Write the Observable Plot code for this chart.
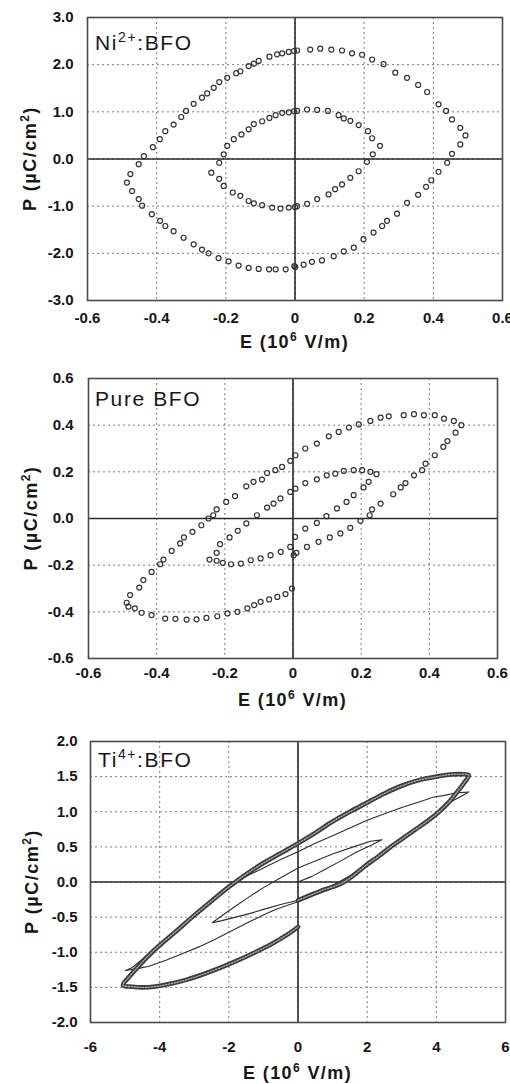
<!DOCTYPE html>
<html>
<head>
<meta charset="utf-8">
<script src="https://cdn.jsdelivr.net/npm/d3@7"></script>
<script src="https://cdn.jsdelivr.net/npm/@observablehq/plot@0.6"></script>
<style>
  body { margin: 0; background: #fff; width: 510px; }
  #charts svg { display: block; }
</style>
</head>
<body>
<div id="charts"></div>
<script>
// P–E hysteresis loops, E in 10^6 V/m, P in µC/cm², pairs are [E, P]

// Ni2+:BFO — outer loop (±0.5) and inner loop (±0.25), open circles
const niOuter = [
  [-0.486,-0.50],[-0.476,-0.32],[-0.452,-0.11],[-0.437,0.06],[-0.411,0.25],[-0.391,0.42],[-0.375,0.59],
  [-0.351,0.73],[-0.329,0.89],[-0.315,1.02],[-0.293,1.17],[-0.269,1.30],[-0.254,1.39],[-0.235,1.51],
  [-0.219,1.63],[-0.196,1.72],[-0.170,1.82],[-0.158,1.86],[-0.134,1.97],[-0.119,2.02],[-0.105,2.08],
  [-0.074,2.17],[-0.052,2.22],[-0.037,2.24],[-0.018,2.27],[-0.003,2.29],
  [0.006,2.30],[0.044,2.32],[0.073,2.34],[0.105,2.32],[0.136,2.30],[0.165,2.24],[0.194,2.21],
  [0.223,2.11],[0.256,2.01],[0.290,1.83],[0.324,1.72],[0.356,1.57],[0.382,1.42],[0.415,1.16],
  [0.437,1.02],[0.454,0.84],[0.478,0.66],[0.493,0.50],
  [0.478,0.31],[0.454,0.11],[0.440,-0.08],[0.415,-0.27],[0.394,-0.45],[0.379,-0.59],[0.356,-0.76],
  [0.324,-0.93],[0.295,-1.16],[0.266,-1.31],[0.252,-1.42],[0.227,-1.56],[0.198,-1.70],[0.170,-1.88],
  [0.141,-1.96],[0.112,-2.06],[0.078,-2.15],[0.049,-2.18],[0.025,-2.24],[0.001,-2.29],
  [-0.002,-2.27],[-0.027,-2.34],[-0.056,-2.34],[-0.075,-2.34],[-0.105,-2.33],[-0.134,-2.31],
  [-0.163,-2.26],[-0.192,-2.17],[-0.221,-2.10],[-0.250,-2.00],[-0.269,-1.92],[-0.293,-1.81],
  [-0.322,-1.67],[-0.351,-1.53],[-0.375,-1.42],[-0.390,-1.31],[-0.414,-1.17],[-0.442,-0.99],
  [-0.452,-0.85],[-0.471,-0.68]
];
const niInner = [
  [-0.206,0.10],[-0.219,-0.08],[-0.242,-0.29],[-0.219,-0.42],[-0.206,-0.57],[-0.180,-0.71],
  [-0.158,-0.78],[-0.134,-0.89],[-0.119,-0.94],[-0.095,-0.98],[-0.066,-1.03],[-0.042,-1.05],
  [-0.018,-1.03],[0.0,-1.02],
  [0.006,-1.00],[0.035,-0.95],[0.064,-0.85],[0.097,-0.75],[0.116,-0.64],[0.136,-0.54],[0.160,-0.40],
  [0.184,-0.26],[0.208,-0.06],[0.225,0.10],[0.246,0.28],
  [0.223,0.44],[0.211,0.59],[0.184,0.72],[0.160,0.81],[0.141,0.86],[0.126,0.93],[0.095,1.02],
  [0.064,1.04],[0.035,1.05],[0.006,1.02],
  [-0.003,1.01],[-0.018,0.99],[-0.037,0.98],[-0.056,0.93],[-0.074,0.87],[-0.095,0.80],
  [-0.119,0.74],[-0.134,0.63],[-0.155,0.52],[-0.177,0.42],[-0.196,0.28]
];

// Pure BFO — outer loop (±0.5) and inner loop (±0.25), open circles
const pureOuter = [
  [-0.488,-0.361],[-0.478,-0.328],[-0.451,-0.296],[-0.439,-0.264],[-0.415,-0.229],[-0.390,-0.196],
  [-0.380,-0.176],[-0.356,-0.139],[-0.331,-0.107],[-0.320,-0.081],[-0.295,-0.057],[-0.269,-0.029],
  [-0.248,0.000],[-0.234,0.014],[-0.224,0.039],[-0.196,0.071],[-0.170,0.096],[-0.137,0.138],
  [-0.116,0.157],[-0.091,0.167],[-0.076,0.195],[-0.052,0.207],[-0.032,0.221],[-0.008,0.247],
  [0.007,0.271],[0.036,0.300],[0.070,0.321],[0.105,0.352],[0.134,0.371],[0.164,0.390],[0.193,0.403],
  [0.227,0.418],[0.257,0.432],[0.281,0.438],[0.325,0.443],[0.355,0.447],[0.384,0.443],[0.416,0.443],
  [0.443,0.428],[0.472,0.418],[0.494,0.400],
  [0.477,0.368],[0.453,0.332],[0.441,0.307],[0.416,0.271],[0.389,0.235],[0.379,0.207],[0.355,0.185],
  [0.330,0.152],[0.316,0.133],[0.294,0.104],[0.257,0.064],[0.232,0.039],[0.225,0.014],[0.198,-0.010],
  [0.168,-0.040],[0.139,-0.064],[0.108,-0.081],[0.075,-0.100],[0.041,-0.122],[0.010,-0.147],
  [0.002,-0.157],
  [-0.003,-0.300],[-0.022,-0.324],[-0.046,-0.336],[-0.070,-0.347],[-0.095,-0.357],[-0.114,-0.371],
  [-0.134,-0.385],[-0.163,-0.400],[-0.192,-0.407],[-0.222,-0.419],[-0.254,-0.426],[-0.283,-0.432],
  [-0.312,-0.433],[-0.345,-0.430],[-0.375,-0.429],[-0.415,-0.414],[-0.444,-0.404],[-0.464,-0.385],
  [-0.483,-0.378]
];
const pureInner = [
  [-0.245,-0.176],[-0.224,-0.147],[-0.214,-0.110],[-0.186,-0.081],[-0.162,-0.053],[-0.137,-0.021],
  [-0.106,0.014],[-0.076,0.047],[-0.057,0.064],[-0.037,0.086],[-0.008,0.114],[0.007,0.128],
  [0.036,0.152],[0.070,0.168],[0.099,0.185],[0.124,0.192],[0.149,0.204],[0.178,0.207],[0.203,0.207],
  [0.227,0.200],[0.245,0.190],
  [0.222,0.157],[0.207,0.133],[0.178,0.100],[0.157,0.071],[0.129,0.043],[0.098,0.010],[0.070,-0.019],
  [0.036,-0.043],[0.006,-0.079],
  [-0.008,-0.122],[-0.036,-0.143],[-0.066,-0.157],[-0.095,-0.171],[-0.124,-0.179],[-0.153,-0.193],
  [-0.182,-0.196],[-0.206,-0.190],[-0.224,-0.181]
];

// Ti4+:BFO — outer loop (±5, dense markers) in three sweeps, plus two smaller loops (lines)
const tiOuterRise = [
  [0,-0.26],[0.25,-0.21],[0.5,-0.16],[0.75,-0.11],[1.0,-0.07],[1.33,0.0],[1.67,0.12],[2.0,0.25],
  [2.34,0.37],[2.68,0.5],[3.0,0.61],[3.4,0.75],[3.75,0.87],[4.08,1.0],[4.35,1.13],[4.6,1.28],
  [4.8,1.41],[4.94,1.52]
];
const tiOuterTop = [
  [4.94,1.52],[4.7,1.535],[4.41,1.53],[4.0,1.50],[3.5,1.45],[3.0,1.37],[2.5,1.26],[2.0,1.13],
  [1.5,1.0],[1.0,0.86],[0.5,0.70],[0,0.55],[-0.5,0.41],[-1.0,0.27],[-1.5,0.11],[-2.0,-0.07],
  [-2.5,-0.27],[-3.06,-0.5],[-3.5,-0.69],[-4.0,-0.9],[-4.22,-1.0],[-4.5,-1.14],[-4.7,-1.25],
  [-4.9,-1.36],[-5.06,-1.47]
];
const tiOuterReturn = [
  [-5.06,-1.47],[-4.8,-1.49],[-4.5,-1.50],[-4.17,-1.49],[-3.69,-1.45],[-3.21,-1.39],[-2.72,-1.31],
  [-2.24,-1.22],[-1.76,-1.12],[-1.28,-1.01],[-0.79,-0.89],[-0.31,-0.75],[0,-0.64]
];
const tiMidLoop = [
  [0,-0.28],[0.5,-0.17],[1.0,-0.05],[1.5,0.09],[2.0,0.25],[2.5,0.42],[3.0,0.59],[3.5,0.78],
  [4.0,0.98],[4.3,1.11],[4.6,1.19],[4.94,1.28],
  [4.6,1.27],[4.2,1.23],[3.93,1.21],[3.5,1.14],[3.0,1.06],[2.5,0.97],[2.0,0.88],[1.5,0.77],
  [1.0,0.66],[0.5,0.55],[0,0.43],[-0.5,0.32],[-1.0,0.20],[-1.5,0.08],[-2.0,-0.06],[-2.5,-0.27],
  [-3.0,-0.48],[-3.5,-0.68],[-4.0,-0.88],[-4.5,-1.10],[-4.8,-1.22],[-4.99,-1.26],
  [-4.6,-1.23],[-4.31,-1.20],[-3.8,-1.11],[-3.35,-1.02],[-2.85,-0.92],[-2.38,-0.81],[-1.9,-0.69],
  [-1.42,-0.57],[-1.0,-0.47],[-0.65,-0.39],[-0.3,-0.33],[0,-0.28]
];
const tiInnerLoop = [
  [0,0.0],[0.4,0.08],[0.75,0.17],[1.2,0.29],[1.71,0.43],[2.1,0.52],[2.43,0.60],
  [2.1,0.58],[1.6,0.50],[1.0,0.40],[0.5,0.30],[0,0.20],[-0.5,0.06],[-1.0,-0.08],[-1.5,-0.24],
  [-2.0,-0.41],[-2.48,-0.58],
  [-2.2,-0.55],[-1.8,-0.50],[-1.4,-0.45],[-1.0,-0.39],[-0.5,-0.32],[0,-0.26]
];

// Axis ticks and their printed labels
const smallETicks = [-0.6,-0.4,-0.2,0,0.2,0.4,0.6];
const smallELabels = ["-0.6","-0.4","-0.2","0","0.2","0.4","0.6"];
const niPTicks = [-3,-2,-1,0,1,2,3];
const niPLabels = ["-3.0","-2.0","-1.0","0.0","1.0","2.0","3.0"];
const purePTicks = [-0.6,-0.4,-0.2,0,0.2,0.4,0.6];
const purePLabels = ["-0.6","-0.4","-0.2","0.0","0.2","0.4","0.6"];
const tiETicks = [-6,-4,-2,0,2,4,6];
const tiELabels = ["-6","-4","-2","0","2","4","6"];
const tiPTicks = [-2,-1.5,-1,-0.5,0,0.5,1,1.5,2];
const tiPLabels = ["-2.0","-1.5","-1.0","-0.5","0.0","0.5","1.0","1.5","2.0"];

// Sample names: [base, superscript, rest]
const names = [["Ni", "2+", ":BFO"], ["Pure BFO", "", ""], ["Ti", "4+", ":BFO"]];

const FONT = '"Liberation Sans", Arial, Helvetica, sans-serif';
const INK = "#161616";

function panel(cfg) {
  const fmt = (ticks, labels) => d => labels[ticks.indexOf(d)] ?? "";
  const chart = Plot.plot({
    width: 510,
    height: cfg.height,
    marginTop: cfg.mt, marginBottom: cfg.mb, marginLeft: cfg.ml, marginRight: cfg.mr,
    style: {fontFamily: FONT, fontSize: "15px", fontWeight: "bold", color: INK, background: "#fff", overflow: "visible"},
    x: {domain: cfg.xDomain, ticks: cfg.xTicks, tickFormat: fmt(cfg.xTicks, cfg.xLabels),
        tickSize: 0, tickPadding: cfg.xPad, label: null},
    y: {domain: cfg.yDomain, ticks: cfg.yTicks, tickFormat: fmt(cfg.yTicks, cfg.yLabels),
        tickSize: 0, tickPadding: cfg.yPad, label: null},
    marks: [
      Plot.ruleX(cfg.xTicks, {stroke: "#7a7a7a", strokeWidth: 1, strokeDasharray: "2,3"}),
      Plot.ruleY(cfg.yTicks, {stroke: "#7a7a7a", strokeWidth: 1, strokeDasharray: "2,3"}),
      Plot.ruleX([0], {stroke: "#2a2a2a", strokeWidth: 1.6}),
      Plot.ruleY([0], {stroke: "#2a2a2a", strokeWidth: 1.6}),
      ...cfg.marks,
      Plot.frame({stroke: "#4a4a4a", strokeWidth: 1.6})
    ]
  });
  document.getElementById("charts").append(chart);

  const svg = d3.select(chart);
  const g = svg.append("g").attr("fill", INK).attr("font-family", FONT);
  const cx = (cfg.ml + 510 - cfg.mr) / 2;
  const cy = (cfg.mt + cfg.height - cfg.mb) / 2;

  // E axis title
  const xt = g.append("text").attr("x", cx).attr("y", cfg.xTitleY)
    .attr("text-anchor", "middle").attr("font-size", 18).attr("font-weight", "bold")
    .attr("letter-spacing", 1.4);
  xt.append("tspan").text("E (10");
  xt.append("tspan").attr("font-size", 12).attr("dy", -7).text("6");
  xt.append("tspan").attr("dy", 7).text(" V/m)");

  // P axis title
  const yt = g.append("text").attr("transform", `translate(${cfg.yTitleX},${cy}) rotate(-90)`)
    .attr("text-anchor", "middle").attr("font-size", 18).attr("font-weight", "bold")
    .attr("letter-spacing", 1.5);
  yt.append("tspan").text("P (\u00b5C/cm");
  yt.append("tspan").attr("font-size", 12).attr("dy", -7).text("2");
  yt.append("tspan").attr("dy", 7).text(")");

  // Sample name in the upper-left corner
  const [base, sup, rest] = cfg.name;
  const nt = g.append("text").attr("x", cfg.nameX).attr("y", cfg.nameY)
    .attr("text-anchor", "start")
    .attr("font-size", 21).attr("font-weight", "normal").attr("letter-spacing", 1.6);
  nt.append("tspan").text(base);
  if (sup) {
    nt.append("tspan").attr("font-size", 14).attr("dy", -8).text(sup);
    nt.append("tspan").attr("dy", 8).text(rest);
  }
  return chart;
}

const ring = {x: d => d[0], y: d => d[1], r: 2.5, fill: "none", stroke: "#333", strokeWidth: 1.2};

// Ni2+:BFO
panel({
  height: 355, mt: 17, mb: 55, ml: 87, mr: 8,
  xDomain: [-0.6, 0.6], yDomain: [-3, 3],
  xTicks: smallETicks, xLabels: smallELabels, yTicks: niPTicks, yLabels: niPLabels,
  xPad: 12, yPad: 14, xTitleY: 348, yTitleX: 36,
  name: names[0], nameX: 95, nameY: 50,
  marks: [Plot.dot(niOuter, ring), Plot.dot(niInner, ring)]
});

// Pure BFO
panel({
  height: 360, mt: 23, mb: 57, ml: 88, mr: 13,
  xDomain: [-0.6, 0.6], yDomain: [-0.6, 0.6],
  xTicks: smallETicks, xLabels: smallELabels, yTicks: purePTicks, yLabels: purePLabels,
  xPad: 9, yPad: 15, xTitleY: 351, yTitleX: 37,
  name: names[1], nameX: 95, nameY: 51,
  marks: [Plot.dot(pureOuter, ring), Plot.dot(pureInner, ring)]
});

// Ti4+:BFO: the outer sweeps are drawn as a band of packed markers
const tiOuter = [...tiOuterRise, ...tiOuterTop.slice(1), ...tiOuterReturn.slice(1)];
const band = {x: d => d[0], y: d => d[1], curve: "catmull-rom"};
panel({
  height: 369, mt: 26, mb: 62, ml: 90, mr: 5,
  xDomain: [-6, 6], yDomain: [-2, 2],
  xTicks: tiETicks, xLabels: tiELabels, yTicks: tiPTicks, yLabels: tiPLabels,
  xPad: 19, yPad: 13, xTitleY: 364, yTitleX: 38,
  name: names[2], nameX: 98, nameY: 52,
  marks: [
    Plot.line(tiMidLoop, {x: d => d[0], y: d => d[1], stroke: "#2e2e2e", strokeWidth: 1.1}),
    Plot.line(tiInnerLoop, {x: d => d[0], y: d => d[1], stroke: "#2e2e2e", strokeWidth: 1.1}),
    Plot.line(tiOuter, {...band, stroke: "#3a3a3a", strokeWidth: 4.6}),
    Plot.line(tiOuter, {...band, stroke: "#b0b0b0", strokeWidth: 1.3, strokeDasharray: "1.3,1.6"})
  ]
});
</script>
</body>
</html>
